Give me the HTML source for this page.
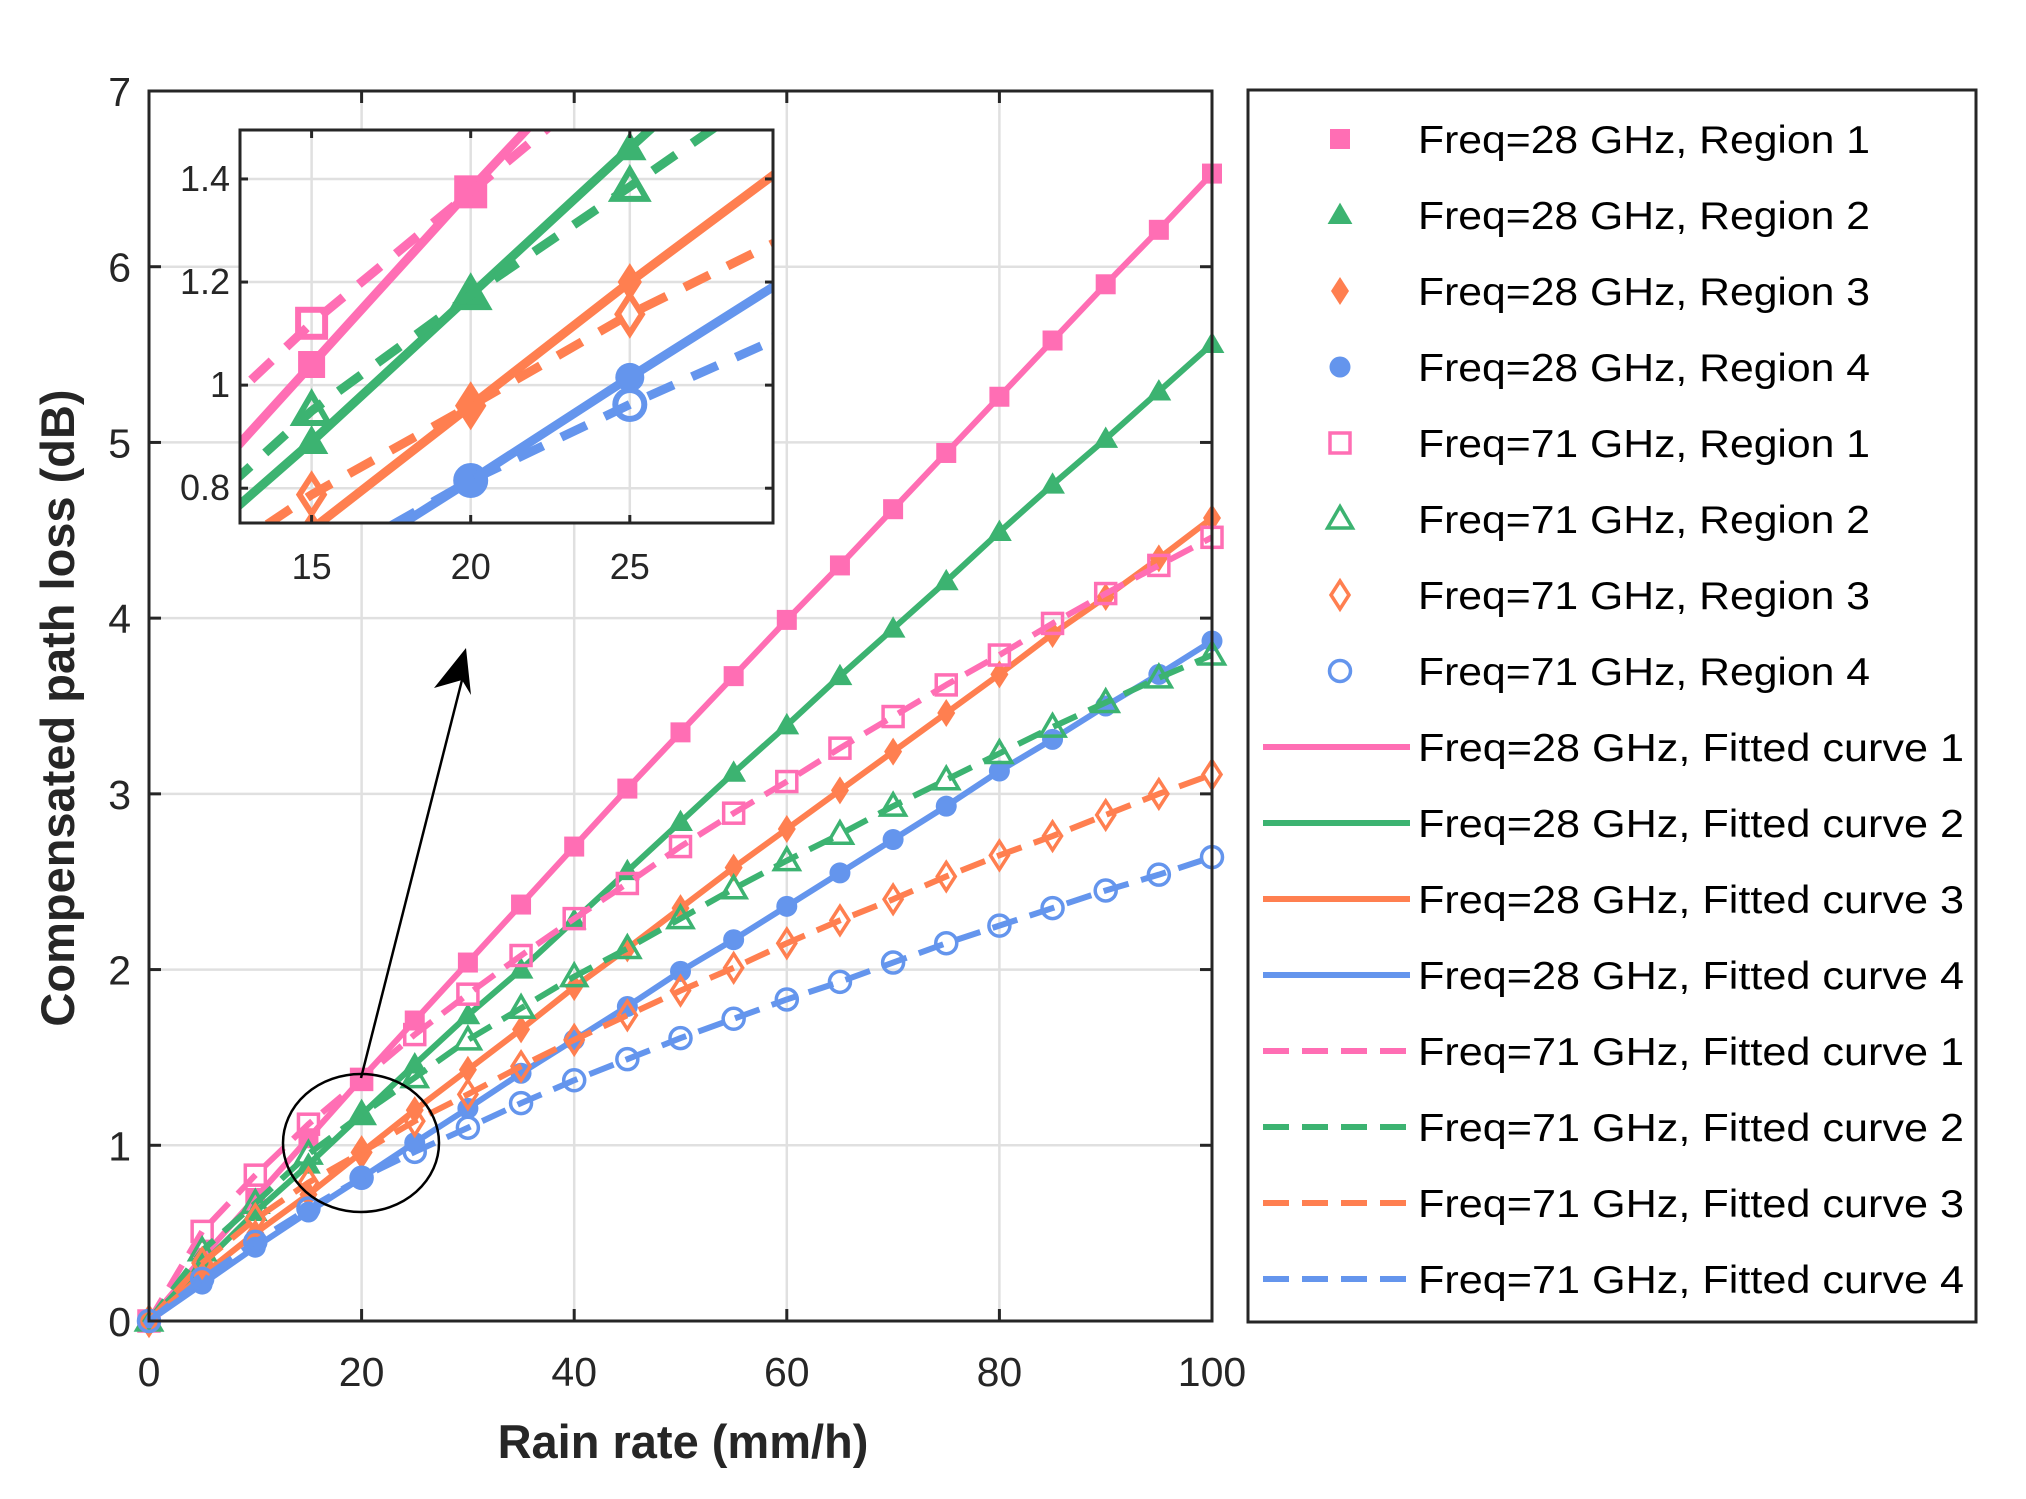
<!DOCTYPE html>
<html><head><meta charset="utf-8">
<style>
html,body{margin:0;padding:0;background:#fff;}
svg{display:block;font-family:"Liberation Sans",sans-serif;}
</style></head>
<body>
<svg id="c" width="2026" height="1499" viewBox="0 0 2026 1499" xmlns="http://www.w3.org/2000/svg"></svg>
<script>
const xs = [0,5,10,15,20,25,30,35,40,45,50,55,60,65,70,75,80,85,90,95,100];
const s28r1 = [0,0.36,0.70,1.04,1.38,1.71,2.04,2.37,2.70,3.03,3.35,3.67,3.99,4.30,4.62,4.94,5.26,5.58,5.90,6.21,6.53];
const s28r2 = [0,0.32,0.62,0.89,1.175,1.46,1.74,2.00,2.28,2.56,2.84,3.12,3.39,3.67,3.94,4.21,4.49,4.76,5.02,5.29,5.56];
const s28r3 = [0,0.26,0.50,0.72,0.96,1.20,1.43,1.66,1.90,2.12,2.35,2.58,2.80,3.02,3.24,3.46,3.68,3.91,4.12,4.34,4.57];
const s28r4 = [0,0.21,0.42,0.62,0.815,1.015,1.21,1.41,1.60,1.79,1.99,2.17,2.36,2.55,2.74,2.93,3.13,3.31,3.50,3.68,3.87];
const s71r1 = [0,0.51,0.83,1.12,1.375,1.63,1.86,2.08,2.29,2.49,2.70,2.89,3.07,3.26,3.44,3.62,3.79,3.97,4.14,4.30,4.46];
const s71r2 = [0,0.40,0.67,0.95,1.175,1.385,1.60,1.78,1.96,2.12,2.29,2.46,2.62,2.77,2.93,3.08,3.23,3.38,3.52,3.66,3.79];
const s71r3 = [0,0.33,0.58,0.7875,0.96,1.1375,1.29,1.45,1.60,1.74,1.88,2.01,2.15,2.28,2.40,2.53,2.65,2.76,2.88,3.00,3.11];
const s71r4 = [0,0.24,0.45,0.64,0.815,0.9625,1.10,1.24,1.37,1.49,1.61,1.72,1.83,1.93,2.04,2.15,2.25,2.35,2.45,2.54,2.64];
const xTicks = [0,20,40,60,80,100];
const yTicks = [0,1,2,3,4,5,6,7];
const insetXTicks = [15,20,25];
const insetYTicks = [0.8,1,1.2,1.4];
const insetYLabels = ["0.8","1","1.2","1.4"];
const legendLabels = ["Freq=28 GHz, Region 1","Freq=28 GHz, Region 2","Freq=28 GHz, Region 3","Freq=28 GHz, Region 4","Freq=71 GHz, Region 1","Freq=71 GHz, Region 2","Freq=71 GHz, Region 3","Freq=71 GHz, Region 4","Freq=28 GHz, Fitted curve 1","Freq=28 GHz, Fitted curve 2","Freq=28 GHz, Fitted curve 3","Freq=28 GHz, Fitted curve 4","Freq=71 GHz, Fitted curve 1","Freq=71 GHz, Fitted curve 2","Freq=71 GHz, Fitted curve 3","Freq=71 GHz, Fitted curve 4"];

const PINK="#FF6EB4",GREEN="#3CB371",ORANGE="#FF7F50",BLUE="#6495ED";
const series=[
 {d:s28r1,c:PINK,m:"square",f:true,dash:false,n:"28ghz-region-1"},
 {d:s28r2,c:GREEN,m:"tri",f:true,dash:false,n:"28ghz-region-2"},
 {d:s28r3,c:ORANGE,m:"diamond",f:true,dash:false,n:"28ghz-region-3"},
 {d:s28r4,c:BLUE,m:"circle",f:true,dash:false,n:"28ghz-region-4"},
 {d:s71r1,c:PINK,m:"square",f:false,dash:true,n:"71ghz-region-1"},
 {d:s71r2,c:GREEN,m:"tri",f:false,dash:true,n:"71ghz-region-2"},
 {d:s71r3,c:ORANGE,m:"diamond",f:false,dash:true,n:"71ghz-region-3"},
 {d:s71r4,c:BLUE,m:"circle",f:false,dash:true,n:"71ghz-region-4"}];

const NS="http://www.w3.org/2000/svg";
const svg=document.getElementById('c');
function el(tag,attrs,parent){const e=document.createElementNS(NS,tag);for(const k in attrs)e.setAttribute(k,attrs[k]);(parent||svg).appendChild(e);return e;}

function marker(g,type,cx,cy,s,color,filled,sw){
  let e;
  if(type==="square") e=el('rect',{x:cx-s/2,y:cy-s/2,width:s,height:s},g);
  else if(type==="circle") e=el('circle',{cx:cx,cy:cy,r:s/2},g);
  else if(type==="tri") e=el('polygon',{points:`${cx},${cy-s*0.62} ${cx-s*0.62},${cy+s*0.45} ${cx+s*0.62},${cy+s*0.45}`},g);
  else e=el('polygon',{points:`${cx},${cy-s*0.7} ${cx+s*0.45},${cy} ${cx},${cy+s*0.7} ${cx-s*0.45},${cy}`},g);
  if(filled){e.setAttribute('fill',color);}else{e.setAttribute('fill','none');e.setAttribute('stroke',color);e.setAttribute('stroke-width',sw);}
  
  
  return e;
}

function drawAxes(o){
  const {L,R,T,B,x0,x1,y0,y1}=o;
  const X=v=>L+(v-x0)/(x1-x0)*(R-L), Y=v=>B-(v-y0)/(y1-y0)*(B-T);
  return {X,Y};
}

// ---------- main plot ----------
const M={L:149,R:1212,T:91,B:1321,x0:0,x1:100,y0:0,y1:7};
const {X,Y}=drawAxes(M);
el('rect',{x:M.L,y:M.T,width:M.R-M.L,height:M.B-M.T,fill:'#fff',});
const grid=el('g',{stroke:'#e0e0e0','stroke-width':2.5,});
xTicks.forEach(t=>{el('line',{x1:X(t),x2:X(t),y1:M.T,y2:M.B},grid);});
yTicks.forEach(t=>{el('line',{x1:M.L,x2:M.R,y1:Y(t),y2:Y(t)},grid);});

const clipM=el('clipPath',{id:'clipM'});el('rect',{x:M.L-20,y:M.T,width:M.R-M.L+40,height:M.B-M.T+20},clipM);
const plotG=el('g',{'clip-path':'url(#clipM)',});
series.forEach(s=>{
  const g=el('g',{},plotG);
  const pts=xs.map((x,i)=>X(x)+','+Y(s.d[i])).join(' ');
  const pl=el('polyline',{points:pts,fill:'none',stroke:s.c,'stroke-width':6,'stroke-linejoin':'round'},g);
  if(s.dash)pl.setAttribute('stroke-dasharray','26 13');
  
  
  xs.forEach((x,i)=>marker(g,s.m,X(x),Y(s.d[i]),s.m==="circle"?21:20,s.c,s.f,3.5));
});
el('rect',{x:M.L,y:M.T,width:M.R-M.L,height:M.B-M.T,fill:'none',stroke:'#262626','stroke-width':3,});
const tk=el('g',{stroke:'#262626','stroke-width':3,});
xTicks.forEach(t=>{el('line',{x1:X(t),x2:X(t),y1:M.B,y2:M.B-12},tk);el('line',{x1:X(t),x2:X(t),y1:M.T,y2:M.T+12},tk);});
yTicks.forEach(t=>{el('line',{x1:M.L,x2:M.L+12,y1:Y(t),y2:Y(t)},tk);el('line',{x1:M.R,x2:M.R-12,y1:Y(t),y2:Y(t)},tk);});
xTicks.forEach(t=>{const e=el('text',{x:X(t),y:M.B+65,'font-size':41,'text-anchor':'middle',fill:'#262626'});e.textContent=t;
 });
yTicks.forEach(t=>{const e=el('text',{x:M.L-18,y:Y(t)+15,'font-size':41,'text-anchor':'end',fill:'#262626'});e.textContent=t;
 });
let t=el('text',{x:683,y:1458,'font-size':47,'font-weight':'bold','text-anchor':'middle',fill:'#262626',});t.textContent='Rain rate (mm/h)';
t=el('text',{x:0,y:0,'font-size':47,'font-weight':'bold','text-anchor':'middle',fill:'#262626',transform:'translate(74,708) rotate(-90)',});t.textContent='Compensated path loss (dB)';

// zoom ellipse & arrow
el('ellipse',{cx:361,cy:1143,rx:78,ry:69,fill:'none',stroke:'#000','stroke-width':2.5,});
el('line',{x1:361,y1:1078,x2:462,y2:680,stroke:'#000','stroke-width':2.5,});
el('polygon',{points:'466,648 471,695 462,680 434,688',fill:'#000',});

// ---------- inset ----------
const I={L:240,R:773,T:130,B:523,x0:12.75,x1:29.5,y0:0.7325,y1:1.495};
const A=drawAxes(I);
el('rect',{x:I.L,y:I.T,width:I.R-I.L,height:I.B-I.T,fill:'#fff',});
const ig=el('g',{stroke:'#e0e0e0','stroke-width':2.5,});
insetXTicks.forEach(v=>el('line',{x1:A.X(v),x2:A.X(v),y1:I.T,y2:I.B},ig));
insetYTicks.forEach(v=>el('line',{x1:I.L,x2:I.R,y1:A.Y(v),y2:A.Y(v)},ig));
const clipI=el('clipPath',{id:'clipI'});el('rect',{x:I.L,y:I.T,width:I.R-I.L,height:I.B-I.T},clipI);
const insG=el('g',{'clip-path':'url(#clipI)',});
series.forEach(s=>{
  const g=el('g',{},insG);
  const pts=xs.map((x,i)=>A.X(x)+','+A.Y(s.d[i])).join(' ');
  const pl=el('polyline',{points:pts,fill:'none',stroke:s.c,'stroke-width':9},g);
  if(s.dash)pl.setAttribute('stroke-dasharray','28 20');
  
  
  xs.forEach((x,i)=>marker(g,s.m,A.X(x),A.Y(s.d[i]),s.m==="circle"?29:27,s.c,s.f,6));
});
el('rect',{x:I.L,y:I.T,width:I.R-I.L,height:I.B-I.T,fill:'none',stroke:'#262626','stroke-width':3,});
const itk=el('g',{stroke:'#262626','stroke-width':3,});
insetXTicks.forEach(v=>{el('line',{x1:A.X(v),x2:A.X(v),y1:I.B,y2:I.B-8},itk);el('line',{x1:A.X(v),x2:A.X(v),y1:I.T,y2:I.T+8},itk);});
insetYTicks.forEach(v=>{el('line',{x1:I.L,x2:I.L+8,y1:A.Y(v),y2:A.Y(v)},itk);el('line',{x1:I.R,x2:I.R-8,y1:A.Y(v),y2:A.Y(v)},itk);});
insetXTicks.forEach(v=>{const e=el('text',{x:A.X(v),y:I.B+56,'font-size':36,'text-anchor':'middle',fill:'#262626'});e.textContent=v;
 });
insetYTicks.forEach((v,i)=>{const e=el('text',{x:I.L-10,y:A.Y(v)+12,'font-size':36,'text-anchor':'end',fill:'#262626'});e.textContent=insetYLabels[i];
 });

// ---------- legend ----------
const lg=el('g',{});
el('rect',{x:1248,y:90,width:728,height:1232,fill:'#fff',stroke:'#262626','stroke-width':3},lg);
legendLabels.forEach((lab,i)=>{
  const cy=139+i*76.0;
  const row=el('g',{},lg);
  
  
  if(i<8){const s=series[i];marker(row,s.m,1340,cy,s.m==="circle"?21:20,s.c,s.f,3.5);}
  else{const s=series[i-8];const l=el('line',{x1:1263,x2:1410,y1:cy,y2:cy,stroke:s.c,'stroke-width':6},row);if(s.dash)l.setAttribute('stroke-dasharray','26 13');}
  const e=el('text',{x:1418,y:cy+14,'font-size':39,fill:'#000'},row);e.textContent=lab;
  e.setAttribute('textLength', i<8?452:546);
  e.setAttribute('lengthAdjust','spacingAndGlyphs');
});
</script>
</body></html>
